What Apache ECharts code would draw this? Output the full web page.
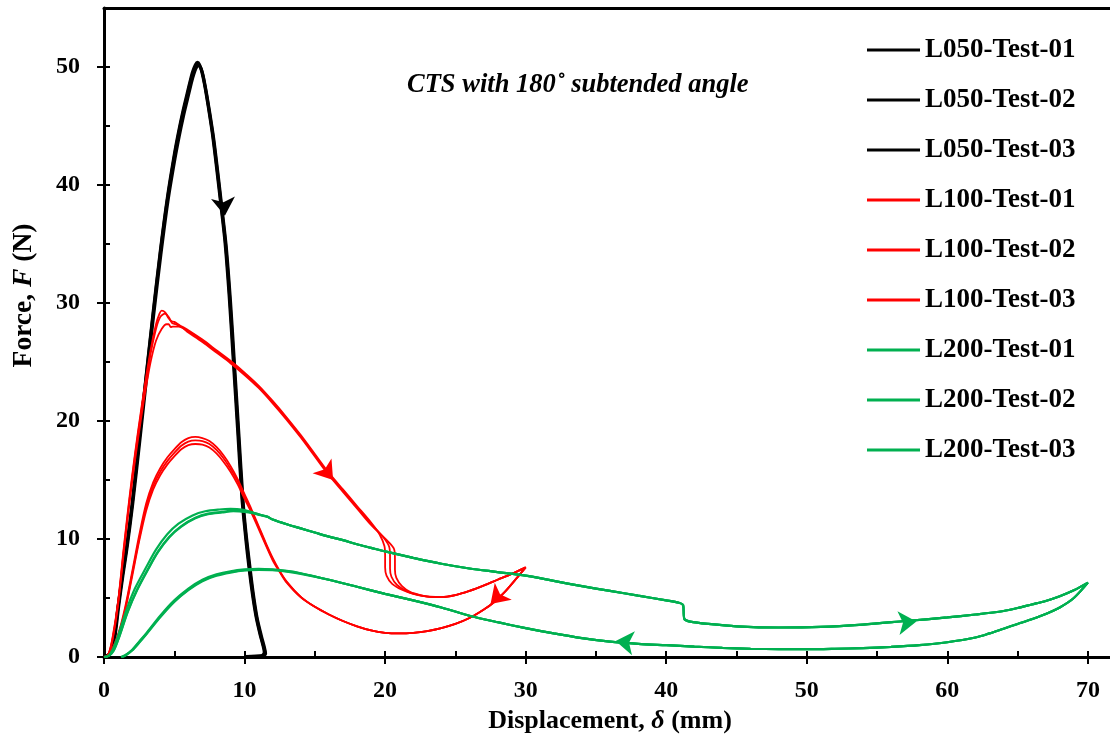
<!DOCTYPE html>
<html><head><meta charset="utf-8">
<script src="https://cdn.jsdelivr.net/npm/echarts@6/dist/echarts.min.js"></script>
<style>html,body{margin:0;padding:0;background:#fff}#chart{width:1110px;height:740px}</style>
</head><body><div id="chart"></div>
<script>
const xMajorTicks = [0,10,20,30,40,50,60,70];
const xAllTicks = [0,5,10,15,20,25,30,35,40,45,50,55,60,65,70];
const yMajorTicks = [0,10,20,30,40,50];
const yAllTicks = [0,5,10,15,20,25,30,35,40,45,50];
const seriesNames = ['L050-Test-01','L050-Test-02','L050-Test-03','L100-Test-01','L100-Test-02','L100-Test-03','L200-Test-01','L200-Test-02','L200-Test-03'];
const annotationText = 'CTS with 180\u02DA subtended angle';

const L050_T01 = [[0,0],[0.4,0.3],[0.7,1.5],[1.0,4.3],[1.3,6.9],[1.6,9.3],[2.0,13.0],[2.5,18.4],[3.0,23.9],[3.5,29.3],[4.0,34.4],[4.5,38.9],[5.0,42.6],[5.3,44.5],[5.6,46.2],[5.9,47.7],[6.1,48.7],[6.3,49.6],[6.5,50.2],[6.65,50.4],[6.8,50.2],[6.95,49.6],[7.15,48.5],[7.35,47.1],[7.7,44.4],[8.0,41.5],[8.3,38.4],[8.6,35.2],[8.9,30.6],[9.2,25.0],[9.5,19.3],[9.8,13.6],[10.0,11.0],[10.2,8.7],[10.5,5.8],[10.8,3.5],[11.1,1.9],[11.3,1.0],[11.4,0.4],[11.2,0.1],[10.0,0.05]];
const L050_T02 = [[0,0],[0.4,0.25],[0.7,1.4],[1.0,4.2],[1.3,6.8],[1.6,9.2],[2.0,12.9],[2.5,18.3],[3.0,23.8],[3.5,29.1],[4.0,34.2],[4.5,38.7],[5.0,42.4],[5.3,44.3],[5.6,46.0],[5.9,47.5],[6.1,48.5],[6.3,49.4],[6.5,50.0],[6.7,50.25],[6.85,50.0],[7.0,49.5],[7.2,48.3],[7.4,46.9],[7.75,44.2],[8.05,41.3],[8.35,38.2],[8.65,35.0],[8.95,30.4],[9.25,24.8],[9.55,19.1],[9.85,13.4],[10.05,10.8],[10.25,8.6],[10.55,5.7],[10.85,3.4],[11.15,1.8],[11.35,0.9],[11.45,0.35],[11.25,0.08],[10.2,0.05]];
const L050_T03 = [[0,0],[0.45,0.3],[0.75,1.5],[1.05,4.3],[1.35,6.9],[1.65,9.3],[2.05,13.0],[2.55,18.3],[3.05,23.8],[3.55,29.1],[4.05,34.1],[4.55,38.6],[5.05,42.2],[5.35,44.1],[5.65,45.8],[5.95,47.3],[6.15,48.3],[6.35,49.2],[6.55,49.9],[6.75,50.1],[6.9,49.9],[7.05,49.3],[7.25,48.1],[7.45,46.7],[7.8,44.0],[8.1,41.1],[8.4,38.0],[8.7,34.8],[9.0,30.2],[9.3,24.6],[9.6,18.9],[9.9,13.2],[10.1,10.6],[10.3,8.5],[10.6,5.6],[10.9,3.3],[11.2,1.8],[11.4,0.9],[11.5,0.3],[11.3,0.06],[10.4,0.05]];

const L100_T01 = [[0,0],[0.3,0.2],[0.6,1.6],[1.0,4.7],[1.4,9.2],[1.8,13.4],[2.2,17.2],[2.6,20.6],[2.9,23.0],[3.3,25.9],[3.7,28.2],[3.95,29.1],[4.1,29.35],[4.35,29.2],[4.6,28.7],[4.8,28.45],[5.0,28.4],[5.4,28.1],[6,27.7],[7,26.9],[8,26.0],[9,25.1],[10,24.1],[11,23.0],[12,21.7],[13,20.3],[14,18.8],[15,17.2],[16,15.6],[17,14.2],[18,12.8],[19,11.4],[19.6,10.4],[19.95,9.4],[20.0,8.6],[20.0,7.6],[20.1,6.9],[20.5,6.2],[21.2,5.7],[22,5.35],[23,5.12],[24,5.08],[25,5.25],[26,5.6],[27,6.05],[28,6.55],[29,7.05],[30,7.6],[29.3,6.6],[28.5,5.5],[27.7,4.6],[27,4.0],[26,3.3],[25,2.8],[24,2.45],[23,2.2],[22,2.05],[21,2.0],[20,2.05],[19,2.25],[18,2.6],[17,3.05],[16,3.6],[15,4.25],[14,5.1],[13,6.4],[12.5,7.3],[12,8.4],[11.5,9.7],[11,11.1],[10.5,12.5],[10,13.8],[9.5,15.1],[9,16.2],[8.5,17.1],[8,17.8],[7.5,18.3],[7,18.55],[6.5,18.65],[6,18.55],[5.5,18.2],[5,17.6],[4.5,16.9],[4,16.0],[3.5,14.8],[3,13.0],[2.5,10.3],[2,7.2],[1.5,4.2],[1,1.9],[0.5,0.5],[0.1,0]];
const L100_T02 = [[0,0],[0.3,0.2],[0.6,1.5],[1.0,4.6],[1.4,9.0],[1.8,13.2],[2.2,17.0],[2.6,20.4],[2.9,22.8],[3.3,25.6],[3.7,27.8],[4.0,28.8],[4.35,29.1],[4.6,28.8],[4.85,28.3],[5.1,28.2],[5.4,28.0],[6,27.6],[7,26.8],[8,25.9],[9,25.0],[10,24.0],[11,22.9],[12,21.6],[13,20.2],[14,18.7],[15,17.1],[16,15.5],[17,14.1],[18,12.7],[19,11.3],[19.9,10.1],[20.3,9.3],[20.35,8.5],[20.35,7.5],[20.45,6.8],[20.85,6.1],[21.5,5.6],[22.2,5.3],[23,5.12],[24,5.08],[25,5.25],[26,5.6],[27,6.05],[28,6.55],[29,7.05],[30,7.6],[29.3,6.6],[28.5,5.5],[27.7,4.6],[27,4.0],[26,3.3],[25,2.8],[24,2.45],[23,2.2],[22,2.05],[21,2.0],[20,2.05],[19,2.25],[18,2.6],[17,3.05],[16,3.6],[15,4.25],[14,5.1],[13,6.35],[12.5,7.25],[12,8.3],[11.5,9.6],[11,11.0],[10.5,12.35],[10,13.6],[9.5,14.9],[9,15.95],[8.5,16.85],[8,17.55],[7.5,18.05],[7,18.3],[6.5,18.35],[6,18.25],[5.5,17.9],[5,17.3],[4.5,16.6],[4,15.7],[3.5,14.5],[3,12.7],[2.5,10.0],[2,7.0],[1.5,4.0],[1,1.8],[0.5,0.45],[0.15,0]];
const L100_T03 = [[0,0],[0.3,0.15],[0.6,1.4],[1.0,4.4],[1.4,8.8],[1.8,12.9],[2.2,16.6],[2.6,19.9],[2.9,22.2],[3.3,24.9],[3.7,26.8],[4.1,27.8],[4.45,28.2],[4.6,28.2],[4.75,27.95],[4.9,28.0],[5.4,28.0],[6,27.5],[7,26.7],[8,25.8],[9,24.9],[10,23.9],[11,22.8],[12,21.5],[13,20.1],[14,18.6],[15,17.0],[16,15.4],[17,14.0],[18,12.6],[19,11.2],[20.2,9.8],[20.65,9.1],[20.7,8.3],[20.7,7.4],[20.8,6.7],[21.2,6.0],[21.8,5.5],[22.5,5.25],[23.2,5.12],[24,5.08],[25,5.25],[26,5.6],[27,6.05],[28,6.55],[29,7.05],[30,7.6],[29.3,6.6],[28.5,5.5],[27.7,4.6],[27,4.0],[26,3.3],[25,2.8],[24,2.45],[23,2.2],[22,2.05],[21,2.0],[20,2.05],[19,2.25],[18,2.6],[17,3.05],[16,3.6],[15,4.25],[14,5.05],[13,6.3],[12.5,7.2],[12,8.2],[11.5,9.5],[11,10.85],[10.5,12.2],[10,13.4],[9.5,14.65],[9,15.7],[8.5,16.55],[8,17.25],[7.5,17.75],[7,18.0],[6.5,18.05],[6,17.95],[5.5,17.6],[5,17.0],[4.5,16.3],[4,15.4],[3.5,14.2],[3,12.4],[2.5,9.8],[2,6.8],[1.5,3.9],[1,1.7],[0.5,0.4],[0.2,0]];

const L200_T01 = [[0,0],[0.3,0.1],[0.6,0.6],[1.0,1.8],[1.6,4.0],[2.2,5.8],[3.0,7.6],[3.7,9.1],[4.5,10.4],[5.3,11.3],[6.3,12.0],[7.2,12.35],[8.2,12.5],[9.0,12.55],[9.8,12.5],[10.6,12.25],[11.1,12.05],[11.6,11.9],[12.0,11.65],[13,11.25],[14,10.9],[15,10.55],[16,10.2],[17,9.9],[18,9.55],[19,9.25],[20,8.95],[22,8.4],[24,7.9],[26,7.5],[28,7.2],[30,6.9],[32,6.45],[34,6.0],[36,5.6],[38,5.2],[40,4.8],[40.9,4.6],[41.2,4.4],[41.25,3.6],[41.3,3.2],[41.7,3.0],[43,2.8],[45,2.6],[48,2.5],[51,2.55],[54,2.75],[57,3.05],[60,3.35],[62,3.6],[64,3.9],[65,4.15],[66,4.45],[67,4.75],[68,5.15],[69,5.65],[70,6.3],[69,5.0],[68,4.2],[67,3.65],[66,3.2],[65,2.8],[64,2.4],[63,2.0],[62,1.65],[60,1.25],[58,1.0],[56,0.85],[54,0.75],[52,0.7],[50,0.67],[48,0.67],[46,0.7],[44,0.78],[42,0.88],[40,1.0],[38,1.12],[36,1.3],[34,1.6],[32,2.0],[30,2.45],[28,2.95],[26,3.5],[24,4.2],[22,4.8],[20,5.35],[18,5.95],[16,6.55],[14,7.1],[13,7.3],[12,7.42],[11,7.47],[10,7.42],[9,7.27],[8,7.0],[7,6.55],[6,5.8],[5,4.8],[4,3.5],[3,2.0],[2.5,1.3],[2,0.6],[1.5,0.15],[1.2,0]];
const L200_T02 = [[0,0],[0.35,0.1],[0.7,0.6],[1.1,1.8],[1.7,3.9],[2.35,5.7],[3.15,7.5],[3.85,8.95],[4.65,10.2],[5.5,11.1],[6.5,11.8],[7.4,12.15],[8.4,12.3],[9.2,12.4],[10.0,12.35],[10.7,12.2],[11.1,12.05],[11.6,11.9],[12.0,11.65],[13,11.25],[14,10.9],[15,10.55],[16,10.2],[17,9.9],[18,9.55],[19,9.25],[20,8.95],[22,8.4],[24,7.9],[26,7.5],[28,7.2],[30,6.9],[32,6.45],[34,6.0],[36,5.6],[38,5.2],[40,4.8],[40.9,4.6],[41.2,4.4],[41.25,3.6],[41.3,3.2],[41.7,3.0],[43,2.8],[45,2.6],[48,2.5],[51,2.55],[54,2.75],[57,3.05],[60,3.35],[62,3.6],[64,3.9],[65,4.15],[66,4.45],[67,4.75],[68,5.15],[69,5.65],[70,6.3],[69,5.0],[68,4.2],[67,3.65],[66,3.2],[65,2.8],[64,2.4],[63,2.0],[62,1.65],[60,1.25],[58,1.0],[56,0.85],[54,0.75],[52,0.7],[50,0.67],[48,0.67],[46,0.7],[44,0.78],[42,0.88],[40,1.0],[38,1.12],[36,1.3],[34,1.6],[32,2.0],[30,2.45],[28,2.95],[26,3.5],[24,4.2],[22,4.8],[20,5.35],[18,5.95],[16,6.55],[14,7.08],[13,7.27],[12,7.38],[11,7.42],[10,7.37],[9,7.2],[8,6.93],[7,6.48],[6,5.72],[5,4.72],[4,3.42],[3,1.95],[2.5,1.25],[2,0.58],[1.5,0.12],[1.25,0]];
const L200_T03 = [[0,0],[0.35,0.1],[0.7,0.55],[1.1,1.75],[1.7,3.85],[2.35,5.65],[3.15,7.45],[3.85,8.9],[4.65,10.15],[5.5,11.05],[6.5,11.75],[7.4,12.1],[8.4,12.25],[9.2,12.35],[10.0,12.3],[10.7,12.15],[11.2,12.0],[11.7,11.85],[12.0,11.65],[13,11.25],[14,10.9],[15,10.55],[16,10.2],[17,9.9],[18,9.55],[19,9.25],[20,8.95],[22,8.4],[24,7.9],[26,7.5],[28,7.2],[30,6.9],[32,6.45],[34,6.0],[36,5.6],[38,5.2],[40,4.8],[40.9,4.6],[41.2,4.4],[41.25,3.6],[41.3,3.2],[41.7,3.0],[43,2.8],[45,2.6],[48,2.5],[51,2.55],[54,2.75],[57,3.05],[60,3.35],[62,3.6],[64,3.9],[65,4.15],[66,4.45],[67,4.75],[68,5.15],[69,5.65],[70,6.3],[69,5.0],[68,4.2],[67,3.65],[66,3.2],[65,2.8],[64,2.4],[63,2.0],[62,1.65],[60,1.25],[58,1.0],[56,0.85],[54,0.75],[52,0.7],[50,0.67],[48,0.67],[46,0.7],[44,0.78],[42,0.88],[40,1.0],[38,1.12],[36,1.3],[34,1.6],[32,2.0],[30,2.45],[28,2.95],[26,3.5],[24,4.2],[22,4.8],[20,5.35],[18,5.95],[16,6.55],[14,7.05],[13,7.24],[12,7.35],[11,7.38],[10,7.33],[9,7.15],[8,6.88],[7,6.42],[6,5.66],[5,4.66],[4,3.36],[3,1.9],[2.5,1.2],[2,0.55],[1.5,0.1],[1.3,0]];

// arrow annotations: [series index, x, y, direction angle in degrees (screen, counter-clockwise from +x)]
const arrowMarks = [[0, 8.6, 37.4, -84],[3, 16.3, 15.0, -52],[3, 27.5, 4.5, 225],[6, 36.4, 1.35, 173],[6, 57.8, 3.0, 5]];

const groupData = [L050_T01,L050_T02,L050_T03,L100_T01,L100_T02,L100_T03,L200_T01,L200_T02,L200_T03];
const groupColors = ['#000000','#000000','#000000','#ff0000','#ff0000','#ff0000','#00b050','#00b050','#00b050'];
const groupWidths = [3,3,3,1.8,1.8,1.8,2.2,2.2,2.2];

const FONT = "'Liberation Serif','Times New Roman',serif";

const series = groupData.map((d, i) => {
  const marks = arrowMarks.filter(a => a[0] === i).map(a => ({
    coord: [a[1], a[2]],
    symbolRotate: a[3] - 90
  }));
  const s = {
    name: seriesNames[i],
    type: 'line',
    data: d,
    symbol: 'none',
    smooth: 0.3,
    clip: false,
    lineStyle: { color: groupColors[i], width: groupWidths[i] },
    itemStyle: { color: groupColors[i] },
    emphasis: { disabled: true },
    z: 2 + Math.floor(i / 3)
  };
  if (marks.length) {
    s.markPoint = {
      symbol: 'arrow',
      symbolSize: [18, 18],
      silent: true,
      animation: false,
      label: { show: false },
      itemStyle: { color: groupColors[i] },
      data: marks
    };
  }
  return s;
});

const chart = echarts.init(document.getElementById('chart'), null, { renderer: 'canvas' });
chart.setOption({
  animation: false,
  backgroundColor: '#ffffff',
  title: {
    text: annotationText,
    left: 402, top: 67,
    textStyle: { fontFamily: FONT, fontStyle: 'italic', fontWeight: 'bold', fontSize: 26.5, color: '#000' }
  },
  legend: {
    orient: 'vertical',
    left: 867, top: 36,
    padding: 0,
    icon: 'rect',
    itemWidth: 53, itemHeight: 3,
    itemGap: 22,
    textStyle: { fontFamily: FONT, fontWeight: 'bold', fontSize: 27, color: '#000', lineHeight: 28 },
    data: seriesNames
  },
  grid: { left: 104, top: 8, width: 1012, bottom: 83, outerBoundsMode: 'none' },
  xAxis: [
    {
      type: 'value', min: 0, max: 72, interval: 10, position: 'bottom',
      name: 'Displacement, {i|\u03B4} (mm)', nameLocation: 'middle', nameGap: 44,
      nameTextStyle: { fontFamily: FONT, fontWeight: 'bold', fontSize: 26, color: '#000',
        rich: { i: { fontFamily: FONT, fontStyle: 'italic', fontWeight: 'bold', fontSize: 26, color: '#000' } } },
      axisLine: { show: true, onZero: false, lineStyle: { color: '#000', width: 3 } },
      axisTick: { show: true, inside: false, length: 7, lineStyle: { color: '#000', width: 2 }, customValues: xMajorTicks },
      axisLabel: { show: true, margin: 22, fontFamily: FONT, fontWeight: 'bold', fontSize: 24, color: '#000', customValues: xMajorTicks },
      splitLine: { show: false }
    },
    {
      type: 'value', min: 0, max: 72, interval: 5, position: 'bottom',
      axisLine: { show: false, onZero: false },
      axisTick: { show: true, inside: true, length: 6, lineStyle: { color: '#000', width: 2 }, customValues: xAllTicks },
      axisLabel: { show: false },
      splitLine: { show: false }
    },
    {
      type: 'value', min: 0, max: 72, position: 'top',
      axisLine: { show: true, onZero: false, lineStyle: { color: '#000', width: 3 } },
      axisTick: { show: false }, axisLabel: { show: false }, splitLine: { show: false }
    }
  ],
  yAxis: [
    {
      type: 'value', min: 0, max: 55, interval: 10, position: 'left',
      name: 'Force, {i|F} (N)', nameLocation: 'middle', nameGap: 66,
      nameTextStyle: { fontFamily: FONT, fontWeight: 'bold', fontSize: 27.5, color: '#000', padding: [0, 0, 0, 74],
        rich: { i: { fontFamily: FONT, fontStyle: 'italic', fontWeight: 'bold', fontSize: 27.5, color: '#000' } } },
      axisLine: { show: true, onZero: false, lineStyle: { color: '#000', width: 3 } },
      axisTick: { show: true, inside: false, length: 7, lineStyle: { color: '#000', width: 2 }, customValues: yMajorTicks },
      axisLabel: { show: true, margin: 24, fontFamily: FONT, fontWeight: 'bold', fontSize: 24, color: '#000', customValues: yMajorTicks },
      splitLine: { show: false }
    },
    {
      type: 'value', min: 0, max: 55, interval: 5, position: 'left',
      axisLine: { show: false, onZero: false },
      axisTick: { show: true, inside: true, length: 6, lineStyle: { color: '#000', width: 2 }, customValues: yAllTicks },
      axisLabel: { show: false },
      splitLine: { show: false }
    }
  ],
  series: series
});
</script>
</body></html>
